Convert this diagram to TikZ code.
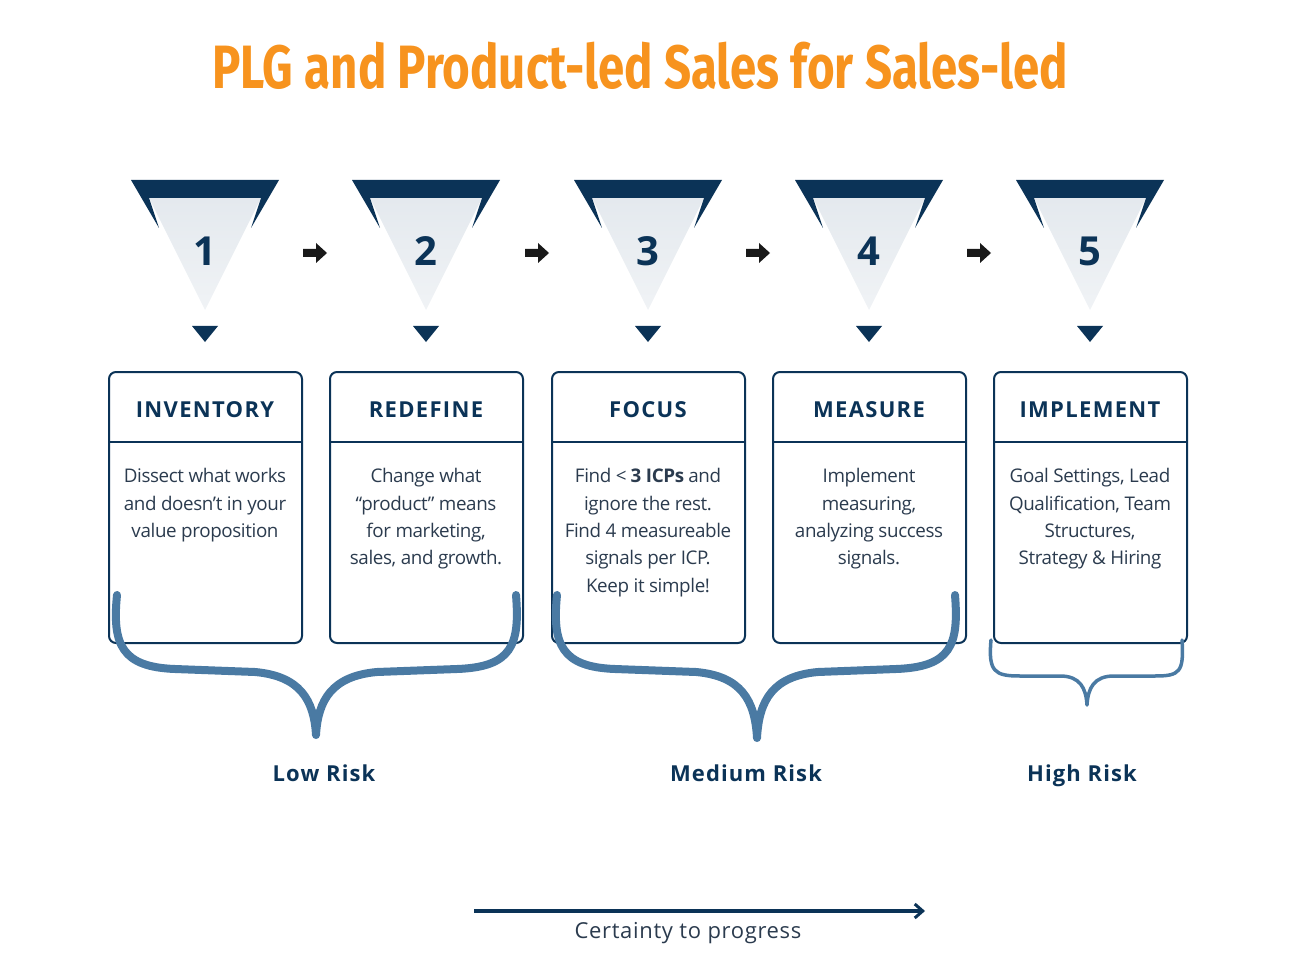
\documentclass[tikz,border=0pt]{standalone}
\usepackage{fontspec}
\usetikzlibrary{arrows.meta}
\setmainfont{Open Sans}
\newfontfamily\titlefont{Fira Sans}
\definecolor{navy}{HTML}{0B3357}
\definecolor{lite}{HTML}{E4E9EE}
\definecolor{steel}{HTML}{4A7AA3}
\definecolor{orng}{HTML}{F7931E}
\definecolor{bodyc}{HTML}{2B3B4E}
\begin{document}
\begin{tikzpicture}[x=1pt,y=-1pt,
  box/.style={draw=navy,line width=2pt,rounded corners=7pt},
  hdr/.style={font=\fontsize{22}{24}\selectfont\bfseries,text=navy},
  bod/.style={font=\fontsize{18.8}{27.3}\selectfont\addfontfeatures{LetterSpace=-2},text=bodyc,align=center,anchor=north},
  risk/.style={font=\fontsize{22}{26}\selectfont\bfseries\addfontfeatures{LetterSpace=5},text=navy,anchor=base},
  brace/.style={draw=steel,line width=8pt,line cap=round,line join=round},
  num/.style={font=\fontsize{40}{40}\selectfont\bfseries,text=navy}]
\useasboundingbox (0,0) rectangle (1292,957);
\node (title) at (640,66) {\scalebox{0.79}[1.02]{\titlefont\fontsize{60}{60}\selectfont\bfseries\color{orng}PLG and Product-led Sales for Sales-led}};
\foreach \i/\cx/\hd in {1/205/INVENTORY,2/426/REDEFINE,3/648/FOCUS,4/869/MEASURE,5/1090/IMPLEMENT}{
  \shade[top color=lite,bottom color=lite!55] (\cx-56,198) -- (\cx+56,198) -- (\cx,310) -- cycle;
  \fill[navy] (\cx-74,180) -- (\cx+74,180) -- (\cx+46,228) -- (\cx+56,198) -- (\cx-56,198) -- (\cx-46,228) -- cycle;
  \node[num] (n\i) at (\cx,251) {\i};
  \fill[navy] (\cx-13,326) -- (\cx+13,326) -- (\cx,342) -- cycle;
  \draw[box] (\cx-96,372) rectangle (\cx+97,643);
  \draw[navy,line width=2pt] (\cx-96,442) -- (\cx+97,442);
  \node[hdr] (h\i) at (\cx,410) {\addfontfeatures{LetterSpace=6}\hd};
}
\foreach \ax in {315,537,758,979}{
  \fill[black!90] (\ax-12,249) -- (\ax+1,249) -- (\ax+1,243) -- (\ax+12,253) -- (\ax+1,263) -- (\ax+1,257) -- (\ax-12,257) -- cycle;
}
\node[bod] (b1) at (205,465) {Dissect what works\\and doesn’t in your\\value proposition};
\node[bod] (b2) at (426,465) {Change what\\“product” means\\for marketing,\\sales, and growth.};
\node[bod] (b3) at (648,465) {Find < \textbf{3 ICPs} and\\ignore the rest.\\Find 4 measureable\\signals per ICP.\\Keep it simple!};
\node[bod] (b4) at (869,465) {Implement\\measuring,\\analyzing success\\signals.};
\node[bod] (b5) at (1090,465) {Goal Settings, Lead\\Qualification, Team\\Structures,\\Strategy \& Hiring};
\draw[brace] (117,595) .. controls (112,645) and (122,667) .. (175,669) -- (255,672) .. controls (300,676) and (314,700) .. (316,735) .. controls (318,700) and (332,676) .. (377,672) -- (457,669) .. controls (512,667) and (520,645) .. (516,595);
\draw[brace] (557,595) .. controls (552,645) and (562,667) .. (615,669) -- (696,672) .. controls (741,676) and (755,700) .. (757,738) .. controls (759,700) and (773,676) .. (818,672) -- (896,669) .. controls (951,667) and (959,645) .. (955,595);
\draw[brace,line width=3.5pt] (991,640) .. controls (988,672) and (995,676) .. (1020,676) -- (1060,676) .. controls (1080,676) and (1086,688) .. (1087,705) .. controls (1088,688) and (1094,676) .. (1114,676) -- (1155,676) .. controls (1180,676) and (1184,672) .. (1182,640);
\node[risk] (r1) at (324,781) {Low Risk};
\node[risk] (r2) at (746,781) {Medium Risk};
\node[risk] (r3) at (1082,781) {High Risk};
\coordinate (p1) at (474,911);
\coordinate (p2) at (925,911);
\draw[navy,line width=4pt,-{Straight Barb[length=8pt,width=14pt,line width=3pt]}] (p1) -- (p2);
\node[font=\fontsize{22}{26}\selectfont\addfontfeatures{LetterSpace=3},text=bodyc,anchor=base] (cert) at (688,938) {Certainty to progress};
\end{tikzpicture}
\end{document}
